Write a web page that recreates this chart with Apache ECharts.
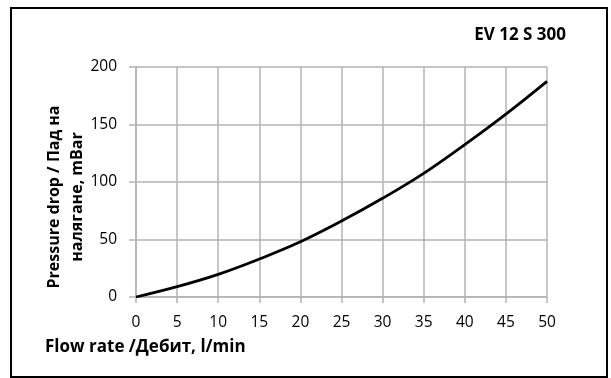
<!DOCTYPE html>
<html>
<head>
<meta charset="utf-8">
<script src="https://cdn.jsdelivr.net/npm/echarts@6/dist/echarts.min.js"></script>
<style>html,body{margin:0;padding:0;background:#fff}#c{width:611px;height:378px}</style>
</head>
<body>
<div id="c"></div>
<script>
var flowRate = [0, 5, 10, 15, 20, 25, 30, 35, 40, 45, 50];
var pressureDrop = [0, 9, 19.7, 33, 48, 66, 85.8, 107.5, 132.5, 159, 187.5];
var xTicks = [0, 5, 10, 15, 20, 25, 30, 35, 40, 45, 50];
var yTicks = [0, 50, 100, 150, 200];
var title = 'EV 12 S 300';
var xName = 'Flow rate /Дебит, l/min';
var yName = 'Pressure drop / Пад на\nналягане, mBar';

var chart = echarts.init(document.getElementById('c'), null, {renderer: 'canvas'});
var FONT = '"Open Sans", "Noto Sans", sans-serif';
var gridColor = '#b3b3b3';
chart.setOption({
  animation: false,
  backgroundColor: '#fff',
  grid: {left: 136, right: 64, top: 67, bottom: 81, containLabel: false},
  xAxis: {
    type: 'value', min: xTicks[0], max: xTicks[xTicks.length - 1], interval: 5,
    axisLine: {show: true, lineStyle: {color: gridColor, width: 1.5}},
    axisTick: {show: true, length: 6, lineStyle: {color: gridColor, width: 1.5}},
    splitLine: {show: true, lineStyle: {color: gridColor, width: 1.5}},
    axisLabel: {margin: 18, color: '#000', fontSize: 15.5, fontFamily: FONT}
  },
  yAxis: {
    type: 'value', min: yTicks[0], max: yTicks[yTicks.length - 1], interval: 50,
    axisLine: {show: true, lineStyle: {color: gridColor, width: 1.5}},
    axisTick: {show: true, length: 7, lineStyle: {color: gridColor, width: 1.5}},
    splitLine: {show: true, lineStyle: {color: gridColor, width: 1.5}},
    axisLabel: {margin: 19, color: '#000', fontSize: 15.5, fontFamily: FONT}
  },
  series: [{
    type: 'line',
    data: flowRate.map(function (x, i) { return [x, pressureDrop[i]]; }),
    smooth: 0.4,
    showSymbol: false,
    lineStyle: {color: '#000', width: 2.8},
    z: 5
  }],
  graphic: [
    {type: 'rect', shape: {x: 11, y: 8, width: 596, height: 369}, style: {fill: 'none', stroke: '#000', lineWidth: 2}, z: 10},
    {type: 'text', right: 45, top: 27, style: {text: title, font: 'bold 17px ' + FONT, fill: '#000'}},
    {type: 'text', left: 45, top: 339, style: {text: xName, font: 'bold 17px ' + FONT, fill: '#000'}},
    {type: 'text', x: 66, y: 197, rotation: Math.PI / 2,
     style: {text: yName, font: 'bold 16px ' + FONT, fill: '#000', align: 'center', verticalAlign: 'middle', lineHeight: 23}}
  ]
});
</script>
</body>
</html>
